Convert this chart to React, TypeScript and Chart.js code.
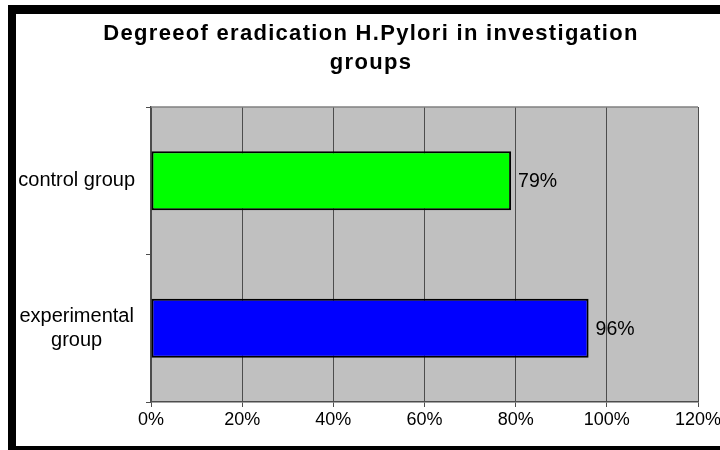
import React, { useEffect, useRef } from 'react';
import { Chart, registerables } from 'chart.js';

Chart.register(...registerables);

const TITLE_LINES = ['Degreeof eradication H.Pylori in investigation', 'groups'];
const GROUPS: (string | string[])[] = ['control group', ['experimental', 'group']];
const ERADICATION = [79, 96];
const BAR_COLORS = ['#00FF00', '#0000FF'];
const X_MIN = 0;
const X_MAX = 120;
const X_STEP = 20;

const FONT = '"Liberation Sans", Arial, sans-serif';

const decorPlugin = {
  id: 'decor',
  beforeDraw(chart: any) {
    const { ctx, chartArea, width, height } = chart;
    ctx.save();
    ctx.fillStyle = '#ffffff';
    ctx.fillRect(0, 0, width, height);
    ctx.fillStyle = '#C0C0C0';
    ctx.fillRect(chartArea.left, chartArea.top, chartArea.right - chartArea.left, chartArea.bottom - chartArea.top);
    ctx.restore();
  },
  afterDatasetsDraw(chart: any) {
    const { ctx } = chart;
    const meta = chart.getDatasetMeta(0);
    ctx.save();
    ctx.font = `19.5px ${FONT}`;
    ctx.fillStyle = '#000';
    ctx.textAlign = 'left';
    ctx.textBaseline = 'middle';
    meta.data.forEach((bar: any, i: number) => {
      ctx.fillText(`${ERADICATION[i]}%`, bar.x + 7, bar.y + 1);
    });
    ctx.restore();
  },
  afterDraw(chart: any) {
    const { ctx, chartArea } = chart;
    ctx.save();
    ctx.strokeStyle = '#808080';
    ctx.lineWidth = 1.5;
    ctx.beginPath();
    ctx.moveTo(chartArea.left, chartArea.top);
    ctx.lineTo(chartArea.right, chartArea.top);
    ctx.stroke();
    ctx.fillStyle = '#000';
    ctx.font = `bold 22px ${FONT}`;
    (ctx as any).letterSpacing = '1.3px';
    ctx.textAlign = 'center';
    ctx.textBaseline = 'alphabetic';
    const cx = 371;
    ctx.fillText(TITLE_LINES[0], cx, 40);
    ctx.fillText(TITLE_LINES[1], cx, 69);
    ctx.restore();
  },
};

export default function App() {
  const ref = useRef<HTMLCanvasElement | null>(null);

  useEffect(() => {
    if (!ref.current) return;
    const chart = new Chart(ref.current, {
      type: 'bar',
      data: {
        labels: GROUPS as any,
        datasets: [
          {
            data: ERADICATION,
            backgroundColor: BAR_COLORS,
            borderColor: '#000000',
            borderWidth: 2,
            borderSkipped: false,
            barPercentage: 0.4,
            categoryPercentage: 1,
          },
        ],
      },
      options: {
        indexAxis: 'y',
        responsive: false,
        animation: false,
        devicePixelRatio: 1,
        layout: { padding: { top: 107, right: 22, bottom: 0, left: 0 } },
        plugins: {
          legend: { display: false },
          tooltip: { enabled: false },
          title: { display: false },
        },
        scales: {
          x: {
            type: 'linear',
            min: X_MIN,
            max: X_MAX,
            ticks: {
              stepSize: X_STEP,
              callback: (v: any) => `${v}%`,
              font: { family: FONT, size: 18 },
              color: '#000',
              padding: 2,
              maxRotation: 0,
              autoSkip: false,
            },
            grid: {
              color: '#4d4d4d',
              lineWidth: 1,
              tickLength: 5,
              drawTicks: true,
            },
            border: { display: true, color: '#4d4d4d', width: 1.5 },
            afterFit: (s: any) => {
              s.height = 48;
              s.paddingRight = 0;
              s.paddingLeft = 0;
            },
          },
          y: {
            type: 'category',
            grid: {
              drawOnChartArea: false,
              drawTicks: true,
              tickLength: 5,
              color: '#4d4d4d',
              offset: true,
            },
            ticks: {
              font: { family: FONT, size: 20, lineHeight: 1.2 },
              color: '#000',
              crossAlign: 'center',
              padding: 11,
            },
            border: { display: true, color: '#4d4d4d', width: 1.5 },
            afterFit: (s: any) => {
              s.width = 151;
            },
          },
        },
      },
      plugins: [decorPlugin],
    });
    return () => chart.destroy();
  }, []);

  return (
    <div style={{ position: 'absolute', left: 0, top: 0, width: 720, height: 450, overflow: 'hidden', background: '#fff' }}>
      <canvas ref={ref} width={720} height={450} style={{ position: 'absolute', left: 0, top: 0, width: 720, height: 450 }} />
      <div
        style={{
          position: 'absolute',
          left: 8,
          top: 5,
          width: 730,
          height: 445,
          boxSizing: 'border-box',
          borderTop: '9px solid #000',
          borderLeft: '8px solid #000',
          borderBottom: '4px solid #000',
          pointerEvents: 'none',
        }}
      />
    </div>
  );
}
